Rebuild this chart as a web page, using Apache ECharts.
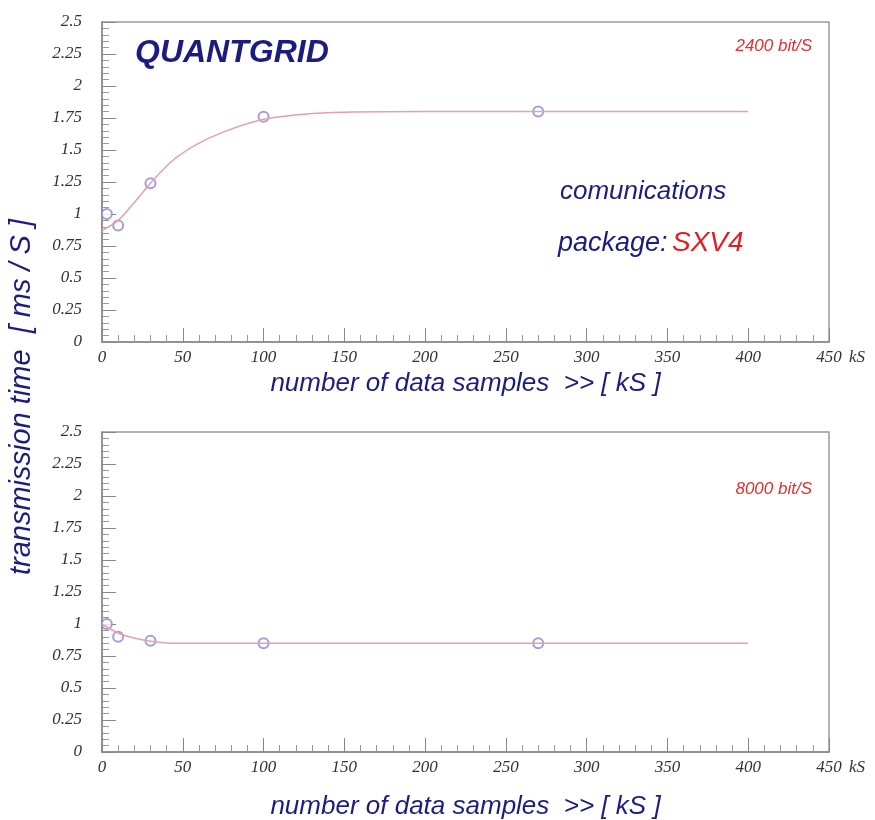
<!DOCTYPE html>
<html>
<head>
<meta charset="utf-8">
<script src="https://cdn.jsdelivr.net/npm/echarts@6/dist/echarts.min.js"></script>
<style>
  html, body { margin: 0; padding: 0; background: #fff; }
  #main { width: 875px; height: 820px; }
</style>
</head>
<body>
<div id="main"></div>
<script>
// measured points, 2400 bit/S
var sampX_top = [3, 10, 30, 100, 270];
var sampY_top = [1.0, 0.91, 1.24, 1.76, 1.8];
// fitted curve
var fitX_top = [0, 10, 20, 30, 43, 58, 75, 100, 125, 150, 200, 250, 300, 350, 400];
var fitY_top = [0.87, 0.95, 1.09, 1.24, 1.41, 1.54, 1.64, 1.74, 1.78, 1.795, 1.8, 1.8, 1.8, 1.8, 1.8];

// measured points, 8000 bit/S
var sampX_bot = [3, 10, 30, 100, 270];
var sampY_bot = [1.0, 0.9, 0.87, 0.85, 0.85];
var fitX_bot = [0, 10, 20, 30, 40, 50, 100, 200, 300, 400];
var fitY_bot = [1.0, 0.93, 0.89, 0.865, 0.852, 0.85, 0.85, 0.85, 0.85, 0.85];

var xTicks = [0, 50, 100, 150, 200, 250, 300, 350, 400, 450];
var yTicks = [0, 0.25, 0.5, 0.75, 1, 1.25, 1.5, 1.75, 2, 2.25, 2.5];

function pairs(xs, ys) {
  var out = [];
  for (var i = 0; i < xs.length; i++) out.push([xs[i], ys[i]]);
  return out;
}

var navy = '#1c1c80';
var tickFont = { fontFamily: 'Liberation Serif', fontStyle: 'italic', fontSize: 17, color: '#333' };

function xAx(idx, gap) {
  return {
    type: 'value', gridIndex: idx, min: xTicks[0], max: xTicks[xTicks.length - 1], interval: 50,
    axisLine: { lineStyle: { color: '#888', width: 1.5 } },
    axisTick: { inside: true, length: 14, lineStyle: { color: '#888' } },
    minorTick: { show: true, splitNumber: 5, length: 7, lineStyle: { color: '#999' } },
    splitLine: { show: false },
    axisLabel: Object.assign({ margin: 7 }, tickFont),
    name: 'number of data samples  >> [ kS ]',
    nameLocation: 'middle', nameGap: gap,
    nameTextStyle: { fontFamily: 'Liberation Sans', fontStyle: 'italic', fontSize: 26, color: navy }
  };
}
function yAx(idx) {
  return {
    type: 'value', gridIndex: idx, min: yTicks[0], max: yTicks[yTicks.length - 1], interval: 0.25,
    axisLine: { show: true, lineStyle: { color: '#888', width: 1.5 } },
    axisTick: { inside: true, length: 14, lineStyle: { color: '#888' } },
    minorTick: { show: true, splitNumber: 5, length: 7, lineStyle: { color: '#999' } },
    splitLine: { show: false },
    axisLabel: Object.assign({ margin: 20 }, tickFont)
  };
}

var curveStyle = { color: '#e8a0a8', width: 1.5 };
var dotStyle = { color: '#8a86d8', borderWidth: 1.3 };

var myChart = echarts.init(document.getElementById('main'));
var option = {
  animation: false,
  backgroundColor: '#fff',
  grid: [
    { left: 102, top: 22, width: 727, height: 320, show: true, borderColor: '#9a9a9a', borderWidth: 1.5,
      outerBoundsMode: 'none' },
    { left: 102, top: 432, width: 727, height: 320, show: true, borderColor: '#9a9a9a', borderWidth: 1.5,
      outerBoundsMode: 'none' }
  ],
  xAxis: [xAx(0, 29), xAx(1, 42)],
  yAxis: [yAx(0), yAx(1)],
  series: [
    { type: 'line', xAxisIndex: 0, yAxisIndex: 0, data: pairs(fitX_top, fitY_top), smooth: 0.3,
      showSymbol: false, lineStyle: curveStyle },
    { type: 'scatter', xAxisIndex: 0, yAxisIndex: 0, data: pairs(sampX_top, sampY_top),
      symbol: 'emptyCircle', symbolSize: 10, itemStyle: dotStyle },
    { type: 'line', xAxisIndex: 1, yAxisIndex: 1, data: pairs(fitX_bot, fitY_bot), smooth: 0.3,
      showSymbol: false, lineStyle: curveStyle },
    { type: 'scatter', xAxisIndex: 1, yAxisIndex: 1, data: pairs(sampX_bot, sampY_bot),
      symbol: 'emptyCircle', symbolSize: 10, itemStyle: dotStyle }
  ],
  graphic: [
    { type: 'text', left: 135, top: 37, style: { text: 'QUANTGRID', fill: navy,
      font: 'italic bold 32px "Liberation Sans"' } },
    { type: 'text', right: 63, top: 38, style: { text: '2400 bit/S', fill: '#e03030',
      font: 'italic 17px "Liberation Sans"' } },
    { type: 'text', right: 63, top: 481, style: { text: '8000 bit/S', fill: '#e03030',
      font: 'italic 17px "Liberation Sans"' } },
    { type: 'text', left: 560, top: 179, style: { text: 'comunications', fill: navy,
      font: 'italic 26px "Liberation Sans"' } },
    { type: 'text', left: 558, top: 230, style: { text: 'package:', fill: navy,
      font: 'italic 27px "Liberation Sans"' } },
    { type: 'text', left: 672, top: 229, style: { text: 'SXV4', fill: '#e02020',
      font: 'italic 28px "Liberation Sans"' } },
    { type: 'text', left: 849, top: 349, style: { text: 'kS', fill: '#333',
      font: 'italic 17px "Liberation Serif"' } },
    { type: 'text', left: 849, top: 759, style: { text: 'kS', fill: '#333',
      font: 'italic 17px "Liberation Serif"' } },
    { type: 'text', x: 22, y: 397, rotation: Math.PI / 2,
      style: { text: 'transmission time  [ ms / S ]', fill: navy, align: 'center', verticalAlign: 'middle',
        font: 'italic 29px "Liberation Sans"' } }
  ]
};
myChart.setOption(option);
</script>
</body>
</html>
